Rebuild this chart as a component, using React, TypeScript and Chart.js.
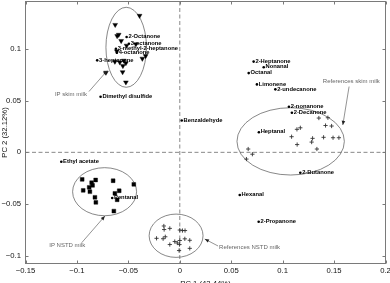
import { useEffect, useRef } from "react";
import { Chart, registerables } from "chart.js";

Chart.register(...registerables);

// Axis ranges and ticks
const xRange = [-0.15, 0.2];
const yRange = [-0.1073, 0.1456];
const xTicks = [-0.15, -0.1, -0.05, 0, 0.05, 0.1, 0.15, 0.2];
const yTicks = [-0.1, -0.05, 0, 0.05, 0.1];
const xTitle = "PC 1 (42.44%)";
const yTitle = "PC 2 (32.12%)";

// Volatile compound loadings (labelled dots)
const compoundNames = [
  "2-Octanone", "3-octanone", "3-methyl-2-heptanone", "4-octanone", "3-heptanone",
  "Dimethyl disulfide", "Benzaldehyde", "2-Heptanone", "Nonanal", "Octanal",
  "Limonene", "2-undecanone", "2-nonanone", "2-Decanone", "Heptanal",
  "2-Butanone", "Hexanal", "2-Propanone", "Ethyl acetate", "Pentanal",
];
const compoundX = [
  -0.0517, -0.0495, -0.0621, -0.0612, -0.0803,
  -0.0770, 0.0019, 0.0718, 0.0816, 0.0670,
  0.0750, 0.0929, 0.1061, 0.1090, 0.0769,
  0.1172, 0.0583, 0.0767, -0.1152, -0.0657,
];
const compoundY = [
  0.1113, 0.1048, 0.1000, 0.0961, 0.0888,
  0.0537, 0.0307, 0.0876, 0.0821, 0.0765,
  0.0656, 0.0608, 0.0440, 0.0382, 0.0194,
  -0.0197, -0.0412, -0.0670, -0.0091, -0.0441,
];

// IP skim milk samples (triangles)
const ipSkimX = [
  -0.0391, -0.0628, -0.0594, -0.0609, -0.0570, -0.0517, -0.0427, -0.0612, -0.0332,
  -0.0364, -0.0631, -0.0583, -0.0544, -0.0524, -0.0553, -0.0556, -0.0718, -0.0524,
];
const ipSkimY = [
  0.1319, 0.1231, 0.1136, 0.1123, 0.1076, 0.1031, 0.1045, 0.0976, 0.0931,
  0.0905, 0.0876, 0.0869, 0.0886, 0.0862, 0.0835, 0.0775, 0.0770, 0.0676,
];

// IP NSTD milk samples (squares)
const ipNstdX = [
  -0.0949, -0.0939, -0.0881, -0.0874, -0.0857, -0.0848, -0.0818, -0.0825,
  -0.0816, -0.0648, -0.0631, -0.0589, -0.0609, -0.0641, -0.0447,
];
const ipNstdY = [
  -0.0261, -0.0367, -0.0338, -0.0380, -0.0293, -0.0319, -0.0267, -0.0434,
  -0.0483, -0.0274, -0.0396, -0.0371, -0.0458, -0.0567, -0.0309,
];

// Reference skim milk samples (plus signs)
const refSkimX = [
  0.1352, 0.1440, 0.1417, 0.1476, 0.1172, 0.1139, 0.1087, 0.1291, 0.1282,
  0.1398, 0.1490, 0.1547, 0.1141, 0.1333, 0.0665, 0.0706, 0.0648,
];
const refSkimY = [
  0.0331, 0.0334, 0.0259, 0.0254, 0.0237, 0.0222, 0.0151, 0.0135, 0.0099,
  0.0145, 0.0141, 0.0141, 0.0075, 0.0032, 0.0032, -0.0018, -0.0065,
];

// Reference NSTD milk samples (plus signs)
const refNstdX = [
  -0.0155, -0.0152, -0.0097, 0.0000, 0.0026, 0.0051, -0.0226, -0.0162, -0.0141,
  -0.0097, -0.0049, -0.0024, -0.0003, 0.0000, 0.0049, 0.0097, 0.0097, -0.0007,
];
const refNstdY = [
  -0.0711, -0.0745, -0.0734, -0.0750, -0.0755, -0.0755, -0.0830, -0.0834, -0.0815,
  -0.0890, -0.0861, -0.0875, -0.0890, -0.0851, -0.0835, -0.0849, -0.0927, -0.0948,
];

// Group ellipses (centre and semi-axes, in data units)
const ellipseCX = [-0.0521, 0.1078, -0.0731, -0.0036];
const ellipseCY = [0.1014, 0.0106, -0.0380, -0.0805];
const ellipseRX = [0.0197, 0.0522, 0.0311, 0.0262];
const ellipseRY = [0.0386, 0.0325, 0.0232, 0.0209];

// Group callouts: text anchor and arrow from/to
const groupNames = ["IP skim milk", "References skim milk", "IP NSTD milk", "References NSTD milk"];
const calloutTextX = [-0.1214, 0.1391, -0.1269, 0.0382];
const calloutTextY = [0.0558, 0.0685, -0.0895, -0.0917];
const arrowFromX = [-0.0883, 0.1646, -0.0954, 0.0372];
const arrowFromY = [0.0587, 0.0635, -0.0873, -0.0904];
const arrowToX = [-0.0706, 0.1585, -0.0728, 0.0243];
const arrowToY = [0.0788, 0.0264, -0.0615, -0.0837];

const FONT = "'Liberation Sans', Arial, Helvetica, sans-serif";

const toPoints = (xs: number[], ys: number[]) => xs.map((x, i) => ({ x, y: ys[i] }));
const fmt = (v: number) => {
  if (Math.abs(v) < 1e-9) return "0";
  const s = String(Math.round(Math.abs(v) * 1000) / 1000);
  return v < 0 ? "\u2212" + s : s;
};

const decorations = {
  id: "decorations",
  beforeDatasetsDraw(chart: any) {
    const { ctx, chartArea: a, scales } = chart;
    const x = scales.x;
    const y = scales.y;
    ctx.save();

    // dashed zero lines
    ctx.strokeStyle = "#6a6a6a";
    ctx.lineWidth = 0.8;
    ctx.setLineDash([4, 2.5]);
    const x0 = x.getPixelForValue(0);
    const y0 = y.getPixelForValue(0);
    ctx.beginPath();
    ctx.moveTo(x0, a.top);
    ctx.lineTo(x0, a.bottom);
    ctx.moveTo(a.left, y0);
    ctx.lineTo(a.right, y0);
    ctx.stroke();
    ctx.setLineDash([]);

    // group ellipses
    ctx.strokeStyle = "#555";
    ctx.lineWidth = 0.7;
    ellipseCX.forEach((cxv, i) => {
      const cx = x.getPixelForValue(cxv);
      const cy = y.getPixelForValue(ellipseCY[i]);
      const rx = Math.abs(x.getPixelForValue(cxv + ellipseRX[i]) - cx);
      const ry = Math.abs(y.getPixelForValue(ellipseCY[i] + ellipseRY[i]) - cy);
      ctx.beginPath();
      ctx.ellipse(cx, cy, rx, ry, 0, 0, Math.PI * 2);
      ctx.stroke();
    });

    // frame and inward ticks on all four sides
    ctx.strokeStyle = "#7a7a7a";
    ctx.lineWidth = 1;
    ctx.strokeRect(a.left, a.top, a.right - a.left, a.bottom - a.top);
    ctx.beginPath();
    xTicks.forEach((v) => {
      const px = Math.round(x.getPixelForValue(v)) + 0.5;
      ctx.moveTo(px, a.bottom);
      ctx.lineTo(px, a.bottom - 3);
      ctx.moveTo(px, a.top);
      ctx.lineTo(px, a.top + 3);
    });
    yTicks.forEach((v) => {
      const py = Math.round(y.getPixelForValue(v)) + 0.5;
      ctx.moveTo(a.left, py);
      ctx.lineTo(a.left + 3, py);
      ctx.moveTo(a.right, py);
      ctx.lineTo(a.right - 3, py);
    });
    ctx.stroke();
    ctx.restore();
  },
  afterDatasetsDraw(chart: any) {
    const { ctx, scales } = chart;
    const x = scales.x;
    const y = scales.y;
    ctx.save();

    // compound names next to their dots
    ctx.fillStyle = "#000";
    ctx.font = `bold 5.8px ${FONT}`;
    ctx.textAlign = "left";
    ctx.textBaseline = "middle";
    compoundNames.forEach((name, i) => {
      ctx.fillText(name, x.getPixelForValue(compoundX[i]) + 1.8, y.getPixelForValue(compoundY[i]) - 0.4);
    });

    // group callouts with arrows
    ctx.font = `6px ${FONT}`;
    groupNames.forEach((name, i) => {
      ctx.fillStyle = "#666";
      ctx.fillText(name, x.getPixelForValue(calloutTextX[i]), y.getPixelForValue(calloutTextY[i]));
      const fx = x.getPixelForValue(arrowFromX[i]);
      const fy = y.getPixelForValue(arrowFromY[i]);
      const tx = x.getPixelForValue(arrowToX[i]);
      const ty = y.getPixelForValue(arrowToY[i]);
      ctx.strokeStyle = "#666";
      ctx.lineWidth = 0.7;
      ctx.beginPath();
      ctx.moveTo(fx, fy);
      ctx.lineTo(tx, ty);
      ctx.stroke();
      const ang = Math.atan2(ty - fy, tx - fx);
      const len = 4.2;
      const half = 1.8;
      const bx = tx - Math.cos(ang) * len;
      const by = ty - Math.sin(ang) * len;
      ctx.fillStyle = "#222";
      ctx.beginPath();
      ctx.moveTo(tx, ty);
      ctx.lineTo(bx - Math.sin(ang) * half, by + Math.cos(ang) * half);
      ctx.lineTo(bx + Math.sin(ang) * half, by - Math.cos(ang) * half);
      ctx.closePath();
      ctx.fill();
    });
    ctx.restore();
  },
};

export default function App() {
  const canvasRef = useRef<HTMLCanvasElement | null>(null);

  useEffect(() => {
    if (!canvasRef.current) return;
    const tickFont = { family: FONT, size: 7.7 };
    const chart = new Chart(canvasRef.current, {
      type: "scatter",
      data: {
        datasets: [
          {
            label: "IP skim milk",
            data: toPoints(ipSkimX, ipSkimY),
            pointStyle: "triangle",
            rotation: 180,
            radius: 2.8,
            backgroundColor: "#000",
            borderColor: "#000",
            borderWidth: 0.4,
          },
          {
            label: "IP NSTD milk",
            data: toPoints(ipNstdX, ipNstdY),
            pointStyle: "rect",
            radius: 2.7,
            backgroundColor: "#000",
            borderColor: "#000",
            borderWidth: 0.4,
          },
          {
            label: "References skim milk",
            data: toPoints(refSkimX, refSkimY),
            pointStyle: "cross",
            radius: 2.1,
            borderColor: "#333",
            borderWidth: 0.9,
          },
          {
            label: "References NSTD milk",
            data: toPoints(refNstdX, refNstdY),
            pointStyle: "cross",
            radius: 2.1,
            borderColor: "#333",
            borderWidth: 0.9,
          },
          {
            label: "Compounds",
            data: toPoints(compoundX, compoundY),
            pointStyle: "circle",
            radius: 1.3,
            backgroundColor: "#000",
            borderColor: "#000",
            borderWidth: 0,
          },
        ],
      },
      options: {
        responsive: false,
        animation: false,
        devicePixelRatio: 1,
        layout: { autoPadding: false, padding: { left: 0, right: 4.5, top: 1.5, bottom: 0 } },
        plugins: { legend: { display: false }, tooltip: { enabled: false } },
        scales: {
          x: {
            type: "linear",
            min: xRange[0],
            max: xRange[1],
            afterBuildTicks: (s: any) => {
              s.ticks = xTicks.map((value) => ({ value }));
            },
            afterFit: (s: any) => {
              s.height = 19.5;
              s.paddingLeft = 0;
              s.paddingRight = 0;
            },
            grid: { display: false, drawTicks: false },
            border: { display: false },
            ticks: {
              font: tickFont,
              color: "#111",
              padding: 3,
              maxRotation: 0,
              autoSkip: false,
              callback: (v: any) => fmt(Number(v)),
            },
            title: {
              display: true,
              text: xTitle,
              font: tickFont,
              color: "#111",
              padding: { top: 0, bottom: -5.1 },
            },
          },
          y: {
            type: "linear",
            min: yRange[0],
            max: yRange[1],
            afterBuildTicks: (s: any) => {
              s.ticks = yTicks.map((value) => ({ value }));
            },
            afterFit: (s: any) => {
              s.width = 25.5;
              s.paddingTop = 0;
              s.paddingBottom = 0;
            },
            grid: { display: false, drawTicks: false },
            border: { display: false },
            ticks: {
              font: tickFont,
              color: "#111",
              padding: 4.5,
              autoSkip: false,
              callback: (v: any) => fmt(Number(v)),
            },
            title: {
              display: true,
              text: yTitle,
              font: tickFont,
              color: "#111",
              padding: { top: 0.4, bottom: 0 },
            },
          },
        },
      },
      plugins: [decorations],
    });
    return () => chart.destroy();
  }, []);

  return (
    <div style={{ position: "fixed", left: 0, top: 0, width: 390, height: 283, background: "#fff" }}>
      <canvas ref={canvasRef} width={390} height={283} style={{ display: "block", width: 390, height: 283 }} />
    </div>
  );
}
